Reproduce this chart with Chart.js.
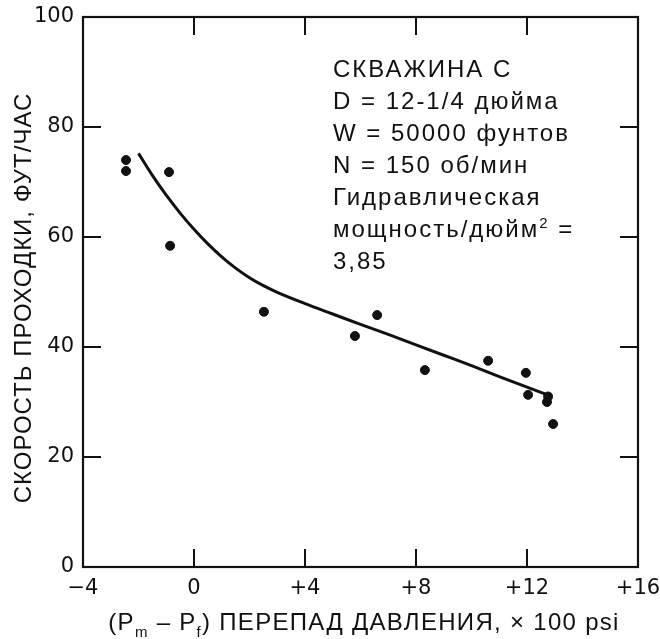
<!DOCTYPE html>
<html lang="ru">
<head>
<meta charset="utf-8">
<title>Скорость проходки — скважина C</title>
<script src="https://cdn.jsdelivr.net/npm/chart.js@4/dist/chart.umd.min.js"></script>
<style>
  html, body { margin: 0; padding: 0; background: #fff; }
  #wrap { position: relative; width: 660px; height: 639px; }
</style>
</head>
<body>
<div id="wrap"><canvas id="rop-chart"></canvas></div>
<script>
// measured points: pressure differential (x100 psi) vs penetration rate (ft/h)
const pressureDiff = [-2.45, -2.45, -0.9, -0.86, 2.52, 5.8, 6.6, 8.32, 10.6, 11.96, 12.04, 12.72, 12.76, 12.94];
const penetrationRate = [74.0, 72.0, 71.8, 58.4, 46.4, 42.0, 45.8, 35.8, 37.5, 35.3, 31.3, 30.0, 31.0, 26.0];

// hand-drawn trend line through the data
const trendX = [-2, -1.5, -1, -0.5, 0, 0.5, 1, 1.5, 2, 2.5, 3, 4, 5, 6, 7, 8, 9, 10, 11, 12, 12.75];
const trendY = [75.2, 71.2, 67.6, 64.35, 61.4, 58.75, 56.4, 54.35, 52.6, 51.15, 49.95, 47.9, 46.0, 44.1, 42.3, 40.4, 38.5, 36.6, 34.6, 32.7, 31.3];

const xTicks = [-4, 0, 4, 8, 12, 16];
const xTickLabels = ["−4", "0", "+4", "+8", "+12", "+16"];
const yTicks = [0, 20, 40, 60, 80, 100];
const yTickLabels = ["0", "20", "40", "60", "80", "100"];

const wellNotes = [
  "СКВАЖИНА С",
  "D = 12-1/4 дюйма",
  "W = 50000 фунтов",
  "N = 150 об/мин",
  "Гидравлическая",
  "мощность/дюйм",
  "3,85",
];

const FONT = "'Liberation Sans', Arial, sans-serif";
const TICK_FONT = "'DejaVu Sans', sans-serif";
const INK = "#111";

// frame around the plot with short ticks pointing inward on all four sides
const framePlugin = {
  id: "frame",
  afterDatasetsDraw(chart) {
    const { ctx, chartArea: a, scales } = chart;
    const len = 18;
    ctx.save();
    ctx.strokeStyle = INK;
    ctx.lineWidth = 2.2;
    ctx.strokeRect(a.left, a.top, a.right - a.left, a.bottom - a.top);
    ctx.lineWidth = 2;
    ctx.beginPath();
    xTicks.slice(1, -1).forEach((v) => {
      const px = scales.x.getPixelForValue(v);
      ctx.moveTo(px, a.bottom);
      ctx.lineTo(px, a.bottom - len);
      ctx.moveTo(px, a.top);
      ctx.lineTo(px, a.top + len);
    });
    yTicks.slice(1, -1).forEach((v) => {
      const py = scales.y.getPixelForValue(v);
      ctx.moveTo(a.left, py);
      ctx.lineTo(a.left + len, py);
      ctx.moveTo(a.right, py);
      ctx.lineTo(a.right - len, py);
    });
    ctx.stroke();
    ctx.restore();
  },
};

// well parameters block and both axis titles
const textPlugin = {
  id: "notes",
  afterDraw(chart) {
    const { ctx } = chart;
    ctx.save();
    ctx.fillStyle = INK;
    ctx.textBaseline = "alphabetic";
    ctx.textAlign = "left";
    ctx.letterSpacing = "2px";

    const x0 = 333;
    let y = 77;
    wellNotes.forEach((line, i) => {
      ctx.font = `24px ${FONT}`;
      ctx.fillText(line, x0, y);
      if (i === 5) {
        let x = x0 + ctx.measureText(line).width;
        ctx.font = `15px ${FONT}`;
        ctx.fillText("2", x, y - 9);
        x += ctx.measureText("2").width;
        ctx.font = `24px ${FONT}`;
        ctx.fillText(" =", x, y);
      }
      y += 32;
    });

    // (Pm – Pf) ПЕРЕПАД ДАВЛЕНИЯ, × 100 psi
    ctx.letterSpacing = "1.3px";
    const base = 630;
    const parts = [
      ["(P", 0],
      ["m", 1],
      [" – P", 0],
      ["f", 1],
      [") ПЕРЕПАД ДАВЛЕНИЯ, × 100 psi", 0],
    ];
    const widthOf = (p) => {
      ctx.font = p[1] ? `15px ${FONT}` : `24px ${FONT}`;
      return ctx.measureText(p[0]).width;
    };
    const total = parts.reduce((s, p) => s + widthOf(p), 0);
    let x = 364 - total / 2;
    parts.forEach((p) => {
      const w = widthOf(p);
      ctx.fillText(p[0], x, p[1] ? base + 7 : base);
      x += w;
    });

    // rotated y title
    ctx.letterSpacing = "1px";
    ctx.font = `24px ${FONT}`;
    ctx.translate(31, 298);
    ctx.rotate(-Math.PI / 2);
    ctx.textAlign = "center";
    ctx.fillText("СКОРОСТЬ ПРОХОДКИ, ФУТ/ЧАС", 0, 0);
    ctx.restore();
  },
};

new Chart(document.getElementById("rop-chart"), {
  type: "scatter",
  data: {
    datasets: [
      {
        label: "Скважина C",
        data: pressureDiff.map((x, i) => ({ x, y: penetrationRate[i] })),
        backgroundColor: INK,
        borderColor: INK,
        pointRadius: 4.5,
        pointHoverRadius: 4.5,
      },
      {
        label: "Тренд",
        type: "line",
        data: trendX.map((x, i) => ({ x, y: trendY[i] })),
        borderColor: INK,
        borderWidth: 3,
        pointRadius: 0,
        fill: false,
        cubicInterpolationMode: "monotone",
      },
    ],
  },
  options: {
    responsive: true,
    maintainAspectRatio: false,
    animation: false,
    layout: { padding: { top: 17, right: 22, left: 0, bottom: 0 } },
    plugins: {
      legend: { display: false },
      tooltip: { enabled: false },
    },
    scales: {
      x: {
        type: "linear",
        min: -4,
        max: 16,
        afterBuildTicks: (scale) => {
          scale.ticks = xTicks.map((value) => ({ value }));
        },
        afterFit: (scale) => {
          scale.height = 72;
          scale.paddingLeft = 0;
          scale.paddingRight = 0;
        },
        grid: { display: false, drawTicks: false },
        border: { display: false },
        ticks: {
          padding: 9,
          color: INK,
          font: { family: TICK_FONT, size: 21 },
          callback: (value) => xTickLabels[xTicks.indexOf(value)],
        },
      },
      y: {
        type: "linear",
        min: 0,
        max: 100,
        afterBuildTicks: (scale) => {
          scale.ticks = yTicks.map((value) => ({ value }));
        },
        afterFit: (scale) => {
          scale.width = 83;
          scale.paddingTop = 0;
          scale.paddingBottom = 0;
        },
        grid: { display: false, drawTicks: false },
        border: { display: false },
        ticks: {
          padding: 9,
          color: INK,
          font: { family: TICK_FONT, size: 21 },
          callback: (value) => yTickLabels[yTicks.indexOf(value)],
        },
      },
    },
  },
  plugins: [framePlugin, textPlugin],
});
</script>
</body>
</html>
